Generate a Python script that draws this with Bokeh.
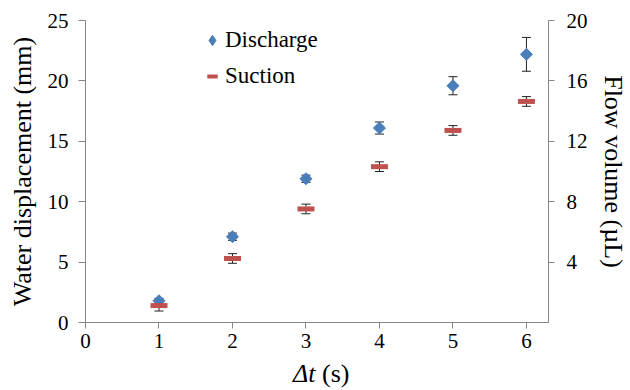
from bokeh.plotting import figure
from bokeh.layouts import column
from bokeh.models import (ColumnDataSource, LinearAxis, Range1d, FixedTicker, Whisker,
                          TeeHead, Legend, LegendItem, Label)
from bokeh.embed import file_html
from bokeh.resources import INLINE
import math

dt = [1, 2, 3, 4, 5, 6]
discharge = [1.8, 7.1, 11.9, 16.1, 19.6, 22.2]
discharge_err = [0.2, 0.3, 0.3, 0.5, 0.75, 1.4]
suction = [1.4, 5.3, 9.4, 12.9, 15.9, 18.3]
suction_err = [0.45, 0.4, 0.4, 0.4, 0.4, 0.4]

x_ticks = [0, 1, 2, 3, 4, 5, 6]
left_ticks = [0, 5, 10, 15, 20, 25]
right_ticks = [4, 8, 12, 16, 20]

FONT = "Liberation Serif"
AX = "#868686"
BLUE = "#4A7EBB"
RED = "#C0504D"
ERR = "#222222"

src_d = ColumnDataSource(dict(x=dt, y=discharge,
                              lo=[v - e for v, e in zip(discharge, discharge_err)],
                              hi=[v + e for v, e in zip(discharge, discharge_err)]))
src_s = ColumnDataSource(dict(x=dt, y=suction,
                              lo=[v - e for v, e in zip(suction, suction_err)],
                              hi=[v + e for v, e in zip(suction, suction_err)]))

p = figure(width=630, height=358, output_backend="svg", toolbar_location=None,
           x_range=Range1d(0, 6.3), y_range=Range1d(0, 25),
           min_border_left=85, min_border_right=76, min_border_top=20, min_border_bottom=36)
p.outline_line_color = None
p.grid.visible = False

p.extra_y_ranges = {"vol": Range1d(0, 20)}
ax_r = LinearAxis(y_range_name="vol")
p.add_layout(ax_r, "right")

for ax in [p.xaxis[0], p.yaxis[0], ax_r]:
    ax.axis_line_color = AX
    ax.major_tick_line_color = AX
    ax.minor_tick_line_color = None
    ax.major_tick_in = 0
    ax.major_tick_out = 6
    ax.major_label_text_font = FONT
    ax.major_label_text_font_size = "21px"
    ax.major_label_text_color = "black"
    ax.axis_label_text_font = FONT
    ax.axis_label_text_font_size = "26px"
    ax.axis_label_text_font_style = "normal"
    ax.axis_label_text_color = "black"

p.xaxis.ticker = FixedTicker(ticks=x_ticks)
p.yaxis[0].ticker = FixedTicker(ticks=left_ticks)
ax_r.ticker = FixedTicker(ticks=right_ticks)
p.yaxis[0].axis_label = "Water displacement (mm)"
p.yaxis[0].axis_label_standoff = 8
p.yaxis[0].major_label_standoff = 10
p.yaxis[0].major_tick_out = 7
ax_r.axis_label = "Flow volume (\u00b5L)"
ax_r.major_label_standoff = 12
ax_r.axis_label_standoff = 8
p.xaxis.major_label_standoff = 5

for src in (src_d, src_s):
    p.add_layout(Whisker(source=src, base="x", upper="hi", lower="lo", line_color=ERR,
                         line_width=1, upper_head=TeeHead(size=9, line_color=ERR),
                         lower_head=TeeHead(size=9, line_color=ERR), level="glyph"))

rd = p.scatter("x", "y", source=src_d, marker="square", size=8.5, angle=math.pi / 4,
               fill_color=BLUE, line_color=BLUE, level="overlay")
rs = p.scatter("x", "y", source=src_s, marker="dash", size=17, line_width=5,
               line_color=RED, level="overlay")

# legend-only renderers (one empty point) so the legend shows a diamond and a dash
nan = float("nan")
rd_leg = p.scatter(x=[nan], y=[nan], marker="diamond", fill_color=BLUE, line_color=BLUE)
rs_leg = p.scatter(x=[nan], y=[nan], marker="dash", line_width=4, line_color=RED)

legend = Legend(items=[LegendItem(label="Discharge", renderers=[rd_leg]),
                       LegendItem(label="Suction", renderers=[rs_leg])],
                location=(114, 233), background_fill_alpha=0, border_line_color=None,
                padding=0, margin=0, label_text_color="black",
                label_text_font=FONT, label_text_font_size="23px", glyph_width=26,
                glyph_height=26, label_height=25, label_standoff=0, spacing=10)
p.add_layout(legend, "center")

# x-axis title with italic Δt, drawn in a strip below the chart
p2 = figure(width=630, height=32, output_backend="svg", toolbar_location=None,
            x_range=Range1d(0, 630), y_range=Range1d(0, 32), min_border=0,
            x_axis_type=None, y_axis_type=None)
p2.outline_line_color = None
p2.grid.visible = False
p2.add_layout(Label(x=313, y=17, text="\u0394t", text_font=FONT, text_font_size="26px",
                    text_color="black", text_font_style="italic", text_align="right",
                    text_baseline="middle"))
p2.add_layout(Label(x=313, y=17, text="\u00a0(s)", text_font=FONT, text_font_size="26px",
                    text_color="black", text_align="left", text_baseline="middle"))

layout = column(p, p2, spacing=0)
open("out.html", "w").write(file_html(layout, INLINE))
